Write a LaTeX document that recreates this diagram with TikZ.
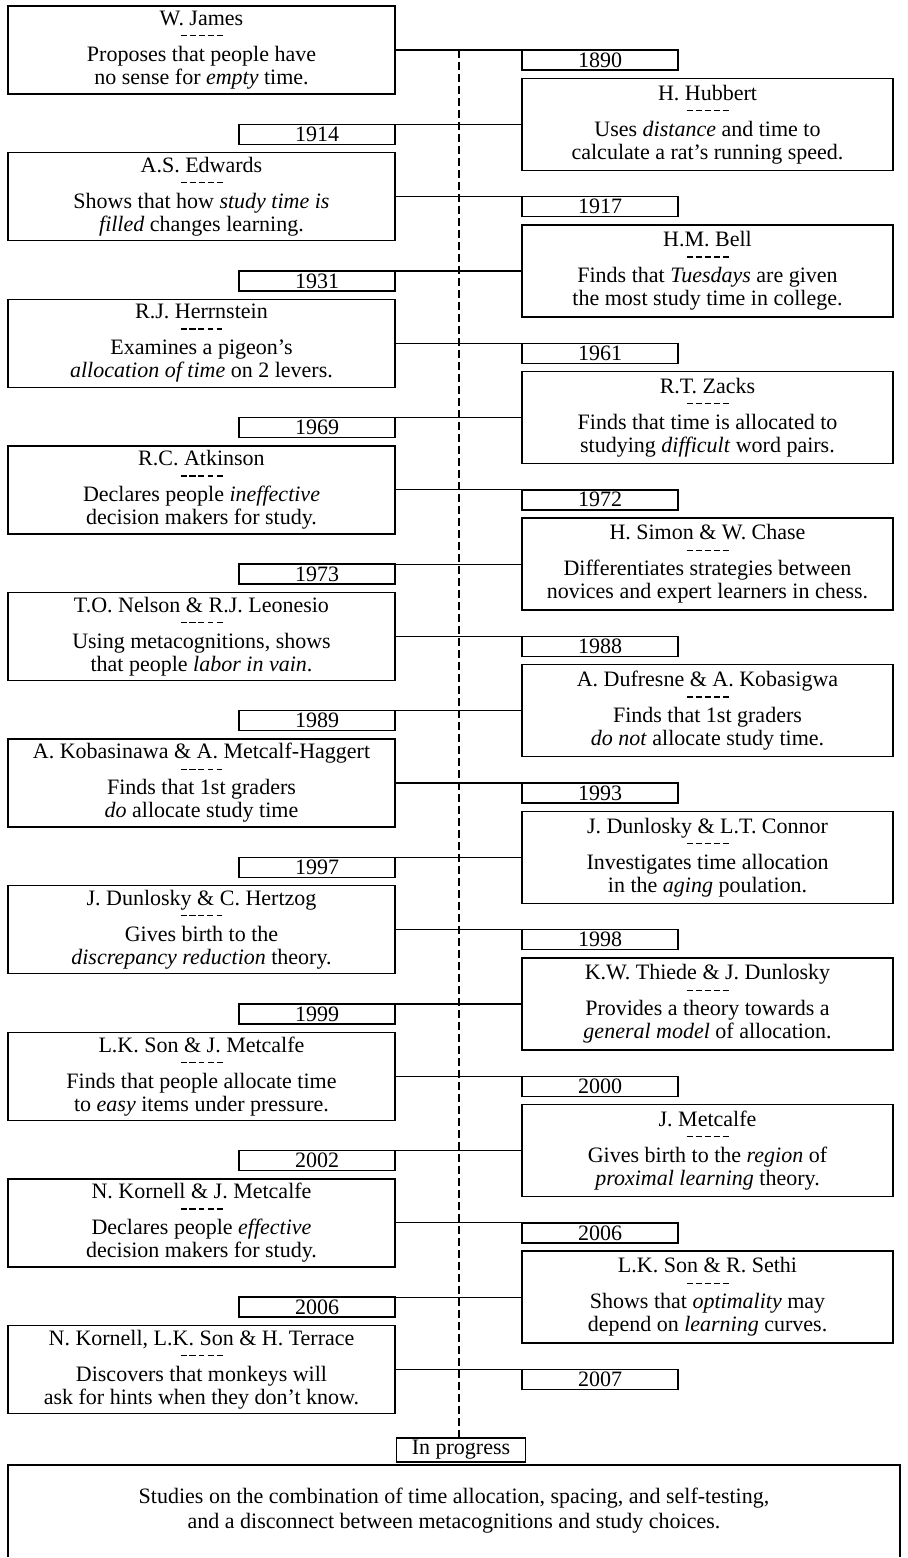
\documentclass[tikz,border=0pt]{standalone}
\usepackage{fontspec}
\setmainfont{Liberation Serif}
\usetikzlibrary{positioning}
\newcommand{\sepdash}{\rule{3pt}{0.6pt}\hspace{1.5pt}\rule{3pt}{0.6pt}\hspace{1.5pt}%
  \rule{3pt}{0.6pt}\hspace{1.5pt}\rule{3pt}{0.6pt}\hspace{1.5pt}\rule{3pt}{0.6pt}}
\tikzset{
  lbox/.style={draw,line width=0.7pt,minimum width=193.5pt,minimum height=44pt,
               inner sep=0pt,outer sep=0pt,align=center,font=\fontsize{11}{11.5}\selectfont},
  rbox/.style={lbox,minimum width=185.5pt,minimum height=46pt},
  ybox/.style={draw,line width=0.7pt,minimum width=78pt,minimum height=10pt,
               inner sep=0pt,outer sep=0pt,font=\fontsize{11}{11}\selectfont},
  pbox/.style={ybox,minimum width=64.5pt,minimum height=12pt},
  ebox/.style={minimum width=446pt,minimum height=46pt,inner sep=0pt,outer sep=0pt,
               align=center,font=\fontsize{11}{12.5}\selectfont},
  link/.style={line width=0.6pt},
  spine/.style={line width=0.6pt,dash pattern=on 4pt off 2pt},
}

\begin{document}
\begin{tikzpicture}[x=0.5pt,y=-0.5pt,node distance=4.15pt]
\useasboundingbox (0,0) rectangle (908,1558);
\coordinate (rcol) at (522,0);
\node[lbox,anchor=north west] (james) at (8,6) {W. James\\[-6pt]\sepdash\\[1pt]Proposes that people have\\no sense for \textit{empty} time.};
\node[ybox,anchor=north west] (y1890) at (james.east -| rcol) {1890};
\node[rbox,below=of y1890.south west,anchor=north west] (hubbert) {H. Hubbert\\[-6pt]\sepdash\\[1pt]Uses \textit{distance} and time to\\calculate a rat's running speed.};
\node[ybox,anchor=north east] (y1914) at (hubbert.west -| james.east) {1914};
\node[lbox,below=of y1914.south east,anchor=north east] (edwards) {A.S. Edwards\\[-6pt]\sepdash\\[1pt]Shows that how \textit{study time is}\\\textit{filled} changes learning.};
\node[ybox,anchor=north west] (y1917) at (edwards.east -| rcol) {1917};
\node[rbox,below=of y1917.south west,anchor=north west] (bell) {H.M. Bell\\[-6pt]\sepdash\\[1pt]Finds that \textit{Tuesdays} are given\\the most study time in college.};
\node[ybox,anchor=north east] (y1931) at (bell.west -| james.east) {1931};
\node[lbox,below=of y1931.south east,anchor=north east] (herrnstein) {R.J. Herrnstein\\[-6pt]\sepdash\\[1pt]Examines a pigeon's\\\textit{allocation of time} on 2 levers.};
\node[ybox,anchor=north west] (y1961) at (herrnstein.east -| rcol) {1961};
\node[rbox,below=of y1961.south west,anchor=north west] (zacks) {R.T. Zacks\\[-6pt]\sepdash\\[1pt]Finds that time is allocated to\\studying \textit{difficult} word pairs.};
\node[ybox,anchor=north east] (y1969) at (zacks.west -| james.east) {1969};
\node[lbox,below=of y1969.south east,anchor=north east] (atkinson) {R.C. Atkinson\\[-6pt]\sepdash\\[1pt]Declares people \textit{ineffective}\\decision makers for study.};
\node[ybox,anchor=north west] (y1972) at (atkinson.east -| rcol) {1972};
\node[rbox,below=of y1972.south west,anchor=north west] (simon) {H. Simon \& W. Chase\\[-6pt]\sepdash\\[1pt]Differentiates strategies between\\novices and expert learners in chess.};
\node[ybox,anchor=north east] (y1973) at (simon.west -| james.east) {1973};
\node[lbox,below=of y1973.south east,anchor=north east] (nelson) {T.O. Nelson \& R.J. Leonesio\\[-6pt]\sepdash\\[1pt]Using metacognitions, shows\\that people \textit{labor in vain}.};
\node[ybox,anchor=north west] (y1988) at (nelson.east -| rcol) {1988};
\node[rbox,below=of y1988.south west,anchor=north west] (dufresne) {A. Dufresne \& A. Kobasigwa\\[-6pt]\sepdash\\[1pt]Finds that 1st graders\\\textit{do not} allocate study time.};
\node[ybox,anchor=north east] (y1989) at (dufresne.west -| james.east) {1989};
\node[lbox,below=of y1989.south east,anchor=north east] (kobasinawa) {A. Kobasinawa \& A. Metcalf-Haggert\\[-6pt]\sepdash\\[1pt]Finds that 1st graders\\\textit{do} allocate study time};
\node[ybox,anchor=north west] (y1993) at (kobasinawa.east -| rcol) {1993};
\node[rbox,below=of y1993.south west,anchor=north west] (connor) {J. Dunlosky \& L.T. Connor\\[-6pt]\sepdash\\[1pt]Investigates time allocation\\in the \textit{aging} poulation.};
\node[ybox,anchor=north east] (y1997) at (connor.west -| james.east) {1997};
\node[lbox,below=of y1997.south east,anchor=north east] (hertzog) {J. Dunlosky \& C. Hertzog\\[-6pt]\sepdash\\[1pt]Gives birth to the\\\textit{discrepancy reduction} theory.};
\node[ybox,anchor=north west] (y1998) at (hertzog.east -| rcol) {1998};
\node[rbox,below=of y1998.south west,anchor=north west] (thiede) {K.W. Thiede \& J. Dunlosky\\[-6pt]\sepdash\\[1pt]Provides a theory towards a\\\textit{general model} of allocation.};
\node[ybox,anchor=north east] (y1999) at (thiede.west -| james.east) {1999};
\node[lbox,below=of y1999.south east,anchor=north east] (son) {L.K. Son \& J. Metcalfe\\[-6pt]\sepdash\\[1pt]Finds that people allocate time\\to \textit{easy} items under pressure.};
\node[ybox,anchor=north west] (y2000) at (son.east -| rcol) {2000};
\node[rbox,below=of y2000.south west,anchor=north west] (metcalfe) {J. Metcalfe\\[-6pt]\sepdash\\[1pt]Gives birth to the \textit{region} of\\\textit{proximal learning} theory.};
\node[ybox,anchor=north east] (y2002) at (metcalfe.west -| james.east) {2002};
\node[lbox,below=of y2002.south east,anchor=north east] (kornell) {N. Kornell \& J. Metcalfe\\[-6pt]\sepdash\\[1pt]Declares people \textit{effective}\\decision makers for study.};
\node[ybox,anchor=north west] (y2006a) at (kornell.east -| rcol) {2006};
\node[rbox,below=of y2006a.south west,anchor=north west] (sethi) {L.K. Son \& R. Sethi\\[-6pt]\sepdash\\[1pt]Shows that \textit{optimality} may\\depend on \textit{learning} curves.};
\node[ybox,anchor=north east] (y2006b) at (sethi.west -| james.east) {2006};
\node[lbox,below=of y2006b.south east,anchor=north east] (terrace) {N. Kornell, L.K. Son \& H. Terrace\\[-6pt]\sepdash\\[1pt]Discovers that monkeys will\\ask for hints when they don't know.};
\node[ybox,anchor=north west] (y2007) at (terrace.east -| rcol) {2007};
\node[pbox,anchor=north] (prog) at (461,1438) {In progress};
\node[ebox,anchor=north west] (future) at (8,1465) {Studies on the combination of time allocation, spacing, and self-testing,\\and a disconnect between metacognitions and study choices.};

\draw[link] (james.east)--(y1890.north west);
\draw[link] (hubbert.west)--(y1914.north east);
\draw[link] (edwards.east)--(y1917.north west);
\draw[link] (bell.west)--(y1931.north east);
\draw[link] (herrnstein.east)--(y1961.north west);
\draw[link] (zacks.west)--(y1969.north east);
\draw[link] (atkinson.east)--(y1972.north west);
\draw[link] (simon.west)--(y1973.north east);
\draw[link] (nelson.east)--(y1988.north west);
\draw[link] (dufresne.west)--(y1989.north east);
\draw[link] (kobasinawa.east)--(y1993.north west);
\draw[link] (connor.west)--(y1997.north east);
\draw[link] (hertzog.east)--(y1998.north west);
\draw[link] (thiede.west)--(y1999.north east);
\draw[link] (son.east)--(y2000.north west);
\draw[link] (metcalfe.west)--(y2002.north east);
\draw[link] (kornell.east)--(y2006a.north west);
\draw[link] (sethi.west)--(y2006b.north east);
\draw[link] (terrace.east)--(y2007.north west);
\draw[spine] (james.east -| 459,0)--(prog.north -| 459,0);
\draw[line width=0.7pt] (future.south west)|-(future.north east)--(future.south east);
\end{tikzpicture}
\end{document}
